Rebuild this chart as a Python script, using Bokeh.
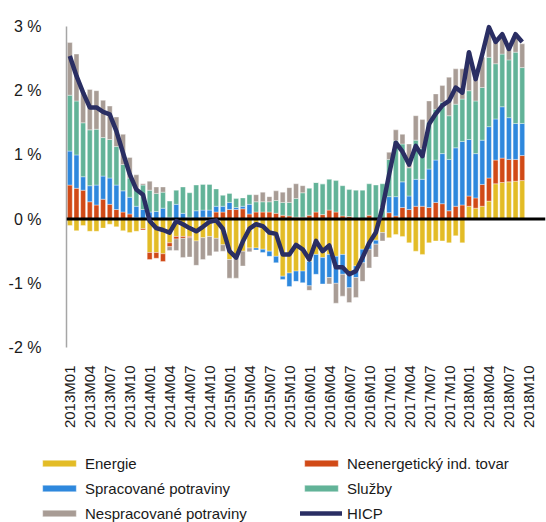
import numpy as np
from math import pi
from bokeh.plotting import figure
from bokeh.layouts import column
from bokeh.models import (ColumnDataSource, Range1d, FixedTicker, PrintfTickFormatter,
                          Span, Legend, LegendItem)
from bokeh.embed import file_html
from bokeh.resources import INLINE

# ---- data (percentage-point contributions, 2013M01 .. 2018M09) ----
energie = [-0.10, -0.18, -0.10, -0.19, -0.19, -0.14, -0.08, -0.12, -0.18, -0.21, -0.19, -0.15,
           -0.52, -0.52, -0.54, -0.37, -0.27, -0.27, -0.27, -0.34, -0.29, -0.27, -0.30, -0.40,
           -0.63, -0.60, -0.50, -0.45, -0.45, -0.47, -0.50, -0.58, -0.89, -0.84, -0.81, -0.81,
           -0.66, -0.55, -0.60, -0.55, -0.58, -0.55, -0.84, -0.73, -0.47, -0.37, -0.33, -0.21,
           -0.29, -0.24, -0.27, -0.37, -0.50, -0.55, -0.37, -0.34, -0.34, -0.37, -0.26, -0.37,
           0.20, 0.17, 0.20, 0.28, 0.55, 0.57, 0.58, 0.59, 0.60]
neig = [0.53, 0.48, 0.45, 0.27, 0.22, 0.31, 0.23, 0.15, 0.11, 0.08, 0.02, -0.02,
        -0.11, -0.09, -0.12, -0.06, -0.04, -0.03, -0.02, 0.00, 0.03, 0.03, 0.11, 0.11,
        0.15, 0.15, 0.16, 0.08, 0.11, 0.11, 0.11, 0.09, 0.06, 0.05, 0.03, 0.03,
        0.06, 0.11, 0.07, 0.14, 0.11, 0.05, 0.04, 0.00, 0.00, 0.06, 0.00, 0.02,
        0.10, 0.05, 0.18, 0.15, 0.20, 0.20, 0.18, 0.26, 0.24, 0.13, 0.20, 0.22,
        0.16, 0.16, 0.34, 0.36, 0.37, 0.38, 0.35, 0.34, 0.39]
spracovane = [0.53, 0.52, 0.21, 0.25, 0.31, 0.36, 0.41, 0.38, 0.33, 0.26, 0.18, 0.15,
              0.11, 0.12, 0.17, 0.03, 0.23, 0.09, 0.03, 0.13, 0.11, 0.11, 0.09, 0.09,
              0.11, 0.03, 0.04, 0.15, -0.03, -0.05, -0.08, -0.10, -0.05, -0.21, -0.16, -0.18,
              -0.38, -0.31, -0.41, -0.36, -0.42, -0.31, -0.23, -0.18, -0.21, -0.10, -0.06, 0.00,
              0.25, 0.30, 0.40, 0.21, 0.42, 0.42, 0.60, 0.66, 0.78, 0.80, 0.91, 0.99,
              0.88, 0.69, 0.69, 0.80, 0.64, 0.80, 0.65, 0.56, 0.50]
sluzby = [0.87, 0.84, 0.84, 0.87, 0.87, 0.60, 0.60, 0.60, 0.41, 0.30, 0.25, 0.38,
          0.34, 0.28, 0.25, 0.25, 0.22, 0.41, 0.38, 0.40, 0.40, 0.40, 0.27, 0.17,
          0.14, 0.14, 0.13, 0.15, 0.16, 0.16, 0.16, 0.20, 0.20, 0.21, 0.29, 0.38,
          0.42, 0.46, 0.48, 0.48, 0.49, 0.47, 0.42, 0.45, 0.45, 0.49, 0.53, 0.53,
          0.58, 0.87, 0.59, 0.44, 0.61, 0.48, 0.73, 0.79, 0.80, 0.68, 0.68, 0.66,
          0.76, 0.82, 0.82, 1.08, 0.86, 0.82, 0.90, 1.11, 0.87]
nespracovane = [0.82, 0.73, 0.48, 0.63, 0.60, 0.58, 0.52, 0.46, 0.47, 0.32, 0.24, 0.02,
                0.14, 0.10, 0.08, -0.06, -0.18, -0.30, -0.30, -0.38, -0.34, -0.30, -0.21, -0.10,
                -0.29, -0.32, -0.23, -0.06, 0.11, 0.15, 0.08, 0.15, 0.16, 0.23, 0.23, 0.11,
                -0.07, 0.00, 0.00, -0.10, -0.31, -0.34, -0.23, -0.31, -0.29, -0.29, -0.20, -0.13,
                0.11, 0.17, 0.15, 0.37, 0.38, 0.45, 0.33, 0.24, 0.26, 0.60, 0.55, 0.47,
                0.60, 0.35, 0.47, 0.37, 0.38, 0.30, 0.20, 0.28, 0.37]
hicp = [2.54, 2.23, 1.97, 1.74, 1.74, 1.67, 1.63, 1.37, 1.03, 0.70, 0.46, 0.38,
        -0.03, -0.14, -0.17, -0.21, -0.03, -0.08, -0.14, -0.19, -0.12, -0.04, -0.02, -0.15,
        -0.50, -0.60, -0.35, -0.15, -0.08, -0.11, -0.21, -0.23, -0.55, -0.55, -0.40, -0.47,
        -0.63, -0.34, -0.50, -0.41, -0.75, -0.75, -0.86, -0.81, -0.60, -0.37, -0.21, 0.18,
        0.70, 1.19, 1.05, 0.85, 1.14, 0.98, 1.48, 1.64, 1.77, 1.84, 2.05, 1.97,
        2.60, 2.18, 2.57, 2.99, 2.76, 2.88, 2.65, 2.88, 2.76]

# category axis runs 2013M01 .. 2018M12 (72 months); every third month labelled
tick_labels = ["2013M01", "2013M04", "2013M07", "2013M10",
               "2014M01", "2014M04", "2014M07", "2014M10",
               "2015M01", "2015M04", "2015M07", "2015M10",
               "2016M01", "2016M04", "2016M07", "2016M10",
               "2017M01", "2017M04", "2017M07", "2017M10",
               "2018M01", "2018M04", "2018M07", "2018M10"]
n_months_axis = 72
y_ticks = [-2, -1, 0, 1, 2, 3]

series = [
    ("Energie", energie, "#E3BC26"),
    ("Neenergetický ind. tovar", neig, "#D14A17"),
    ("Spracované potraviny", spracovane, "#2E88DD"),
    ("Služby", sluzby, "#62B398"),
    ("Nespracované potraviny", nespracovane, "#A89C95"),
]
HICP_COLOR = "#2A2E63"
FONT = "Liberation Sans"
TEXT = "#1a1a1a"

n = len(hicp)
x = np.arange(n)

p = figure(width=546, height=440,
           x_range=Range1d(-0.5, n_months_axis - 0.5), y_range=Range1d(-2, 3),
           output_backend="svg", toolbar_location=None,
           min_border_left=66, min_border_right=1, min_border_top=26, min_border_bottom=93)
p.frame_align = False
p.outline_line_color = None
p.xgrid.visible = False
p.ygrid.visible = False

BAR_STYLE = dict(line_color="white", line_width=0.6, line_alpha=0.6)

pos = np.zeros(n)
neg = np.zeros(n)
for name, vals, color in series:
    v = np.array(vals, dtype=float)
    bottom = np.where(v >= 0, pos, neg)
    top = bottom + v
    pos = np.where(v >= 0, top, pos)
    neg = np.where(v < 0, top, neg)
    src = ColumnDataSource(dict(x=x, bottom=bottom, top=top))
    p.vbar(x="x", bottom="bottom", top="top", width=0.74, source=src,
           fill_color=color, **BAR_STYLE)

p.add_layout(Span(location=0, dimension="width", line_color="black", line_width=3))

hl = p.line(x, hicp, line_color=HICP_COLOR, line_width=4.5, line_join="round")
hl.level = "overlay"

# y axis
p.yaxis.ticker = FixedTicker(ticks=y_ticks)
p.yaxis.formatter = PrintfTickFormatter(format="%d %%")
p.yaxis.major_tick_line_color = None
p.yaxis.minor_tick_line_color = None
p.yaxis.axis_line_color = "#A6A6A6"
p.yaxis.axis_line_width = 1.5
p.yaxis.major_label_text_font = FONT
p.yaxis.major_label_text_font_size = "16px"
p.yaxis.major_label_text_color = TEXT
p.yaxis.major_label_standoff = 19

# x axis
tick_pos = list(range(0, 3 * len(tick_labels), 3))
p.xaxis.ticker = FixedTicker(ticks=tick_pos)
p.xaxis.major_label_overrides = {t: lbl for t, lbl in zip(tick_pos, tick_labels)}
p.xaxis.major_label_orientation = pi / 2
p.xaxis.axis_line_color = None
p.xaxis.major_tick_line_color = None
p.xaxis.minor_tick_line_color = None
p.xaxis.major_label_text_font = FONT
p.xaxis.major_label_text_font_size = "15px"
p.xaxis.major_label_text_color = TEXT
p.xaxis.major_label_standoff = 12

# ---- legend strip below the chart (swatch renderers lie outside its visible range) ----
pl = figure(width=546, height=82, x_range=Range1d(0, 1), y_range=Range1d(0, 1),
            x_axis_type=None, y_axis_type=None,
            output_backend="svg", toolbar_location=None,
            min_border_left=0, min_border_right=0, min_border_top=0, min_border_bottom=0)
pl.frame_align = False
pl.grid.visible = False
pl.outline_line_color = None

swatch_src = ColumnDataSource(dict(x=[-5.0], bottom=[-5.0], top=[-4.0]))
leg_r = {}
for name, vals, color in series:
    leg_r[name] = pl.vbar(x="x", bottom="bottom", top="top", width=0.5, source=swatch_src,
                          fill_color=color, **BAR_STYLE)
leg_r["HICP"] = pl.line(x=[-5.0, -4.0], y=[-5.0, -5.0], line_color=HICP_COLOR,
                        line_width=4.5, line_cap="round")


def make_legend(names, loc):
    lg = Legend(items=[LegendItem(label=nm, renderers=[leg_r[nm]]) for nm in names],
                location=loc, orientation="vertical")
    lg.glyph_width = 42
    lg.glyph_height = 8
    lg.label_height = 18
    lg.spacing = 7
    lg.label_standoff = 5
    lg.padding = 0
    lg.margin = 0
    lg.border_line_color = None
    lg.background_fill_alpha = 0
    lg.label_text_font = FONT
    lg.label_text_font_size = "15px"
    lg.label_text_color = TEXT
    return lg


pl.add_layout(make_legend(["Energie", "Spracované potraviny", "Nespracované potraviny"], (38, 0)))
pl.add_layout(make_legend(["Neenergetický ind. tovar", "Služby", "HICP"], (300, 0)))

layout = column(p, pl, spacing=0)
open("out.html", "w").write(file_html(layout, INLINE))
